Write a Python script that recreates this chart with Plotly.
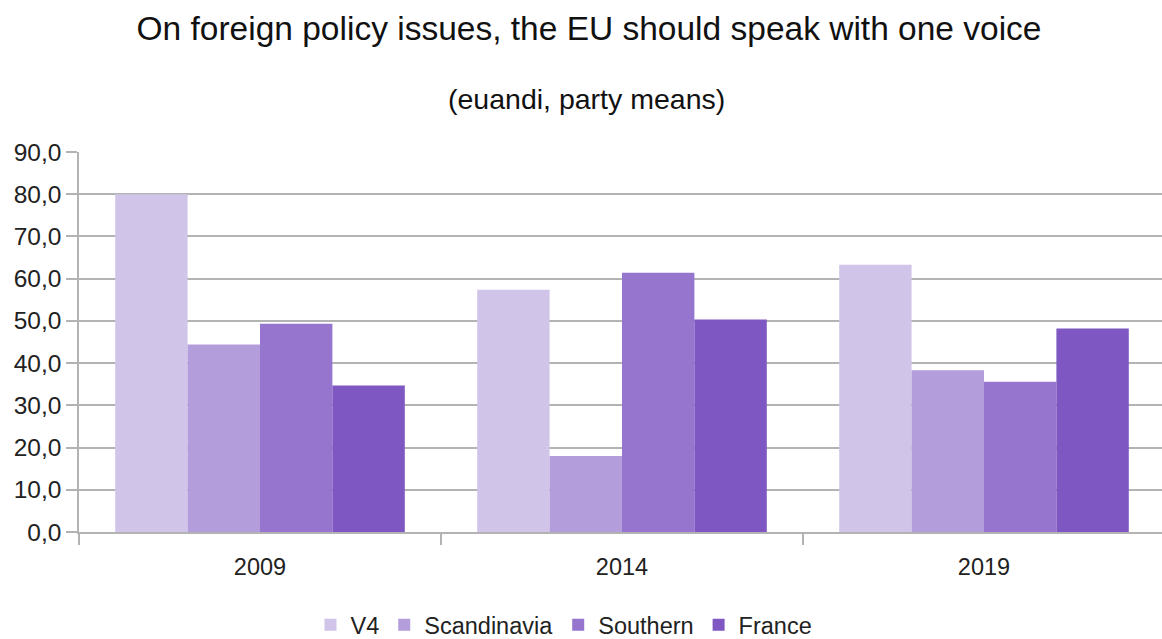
import plotly.graph_objects as go

# Survey years (categories on the x axis)
years = ["2009", "2014", "2019"]

# Party-mean agreement per regional group
v4 = [80.0, 57.4, 63.3]
scandinavia = [44.4, 18.0, 38.3]
southern = [49.3, 61.4, 35.6]
france = [34.7, 50.3, 48.2]

series_names = ["V4", "Scandinavia", "Southern", "France"]
series_values = [v4, scandinavia, southern, france]
series_colors = ["#d1c4e9", "#b39ddb", "#9575cd", "#7e57c2"]

y_ticks = [0, 10, 20, 30, 40, 50, 60, 70, 80, 90]

W, H = 1162, 639
FONT = "Liberation Sans"
GRID = "#b3b3b3"
TEXT = "#222222"

fig = go.Figure()
for name, vals, col in zip(series_names, series_values, series_colors):
    fig.add_trace(go.Bar(
        x=years, y=vals, name=name,
        marker=dict(color=col, line=dict(width=0)),
    ))

fig.update_layout(
    width=W, height=H,
    margin=dict(l=79, r=0, t=152, b=107, pad=0),
    paper_bgcolor="white", plot_bgcolor="white",
    font=dict(family=FONT, size=24, color=TEXT),
    separators=", ",
    barmode="group", bargap=0.2, bargroupgap=0,
    title=dict(
        text="On foreign policy issues, the EU should speak with one voice",
        font=dict(family=FONT, size=33.5, color="#111111"),
        x=589 / W, xanchor="center", xref="container",
        y=1 - 28 / H, yanchor="middle", yref="container",
    ),
    showlegend=True,
    legend=dict(
        orientation="h",
        xref="container", yref="container",
        x=564 / W, xanchor="center",
        y=1 - 603 / H, yanchor="top",
        font=dict(family=FONT, size=23.5, color=TEXT),
        bgcolor="rgba(0,0,0,0)",
    ),
    annotations=[dict(
        text="(euandi, party means)",
        xref="paper", yref="paper",
        x=(586.5 - 79) / (W - 79), y=(532 - 99) / (532 - 152),
        xanchor="center", yanchor="middle", showarrow=False,
        font=dict(family=FONT, size=28.5, color="#111111"),
    )],
)

fig.update_xaxes(
    type="category",
    range=[-0.5, -0.5 + (W - 79) / 362.0],
    showline=True, linecolor=GRID, linewidth=1.5,
    ticks="outside", tickson="boundaries", ticklen=11,
    tickcolor=GRID, tickwidth=1.5,
    showgrid=False,
    tickfont=dict(family=FONT, size=23.5, color=TEXT),
    ticklabelstandoff=13,
)

fig.update_yaxes(
    range=[0, 90],
    tickvals=y_ticks, tickformat=".1f",
    showline=True, linecolor=GRID, linewidth=1.5,
    ticks="outside", ticklen=11, tickcolor=GRID, tickwidth=1.5,
    showgrid=True, gridcolor=GRID, gridwidth=1.5,
    zeroline=False,
    tickfont=dict(family=FONT, size=24.5, color=TEXT),
)

fig.write_html("out.html")
